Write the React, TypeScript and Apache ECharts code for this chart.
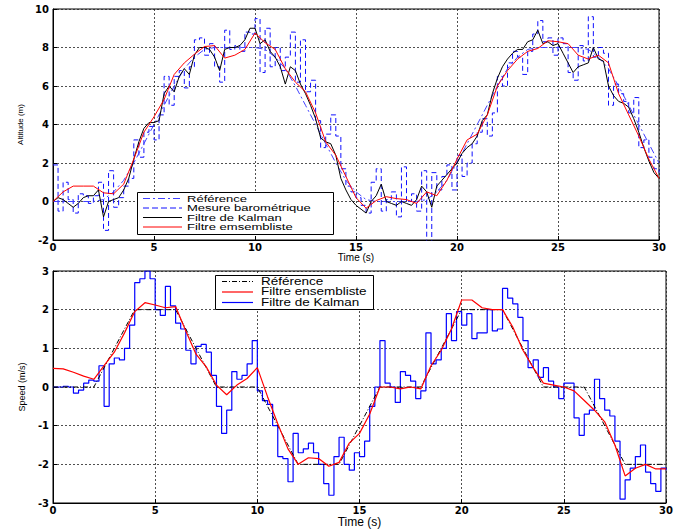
import React, { useEffect, useRef } from "react";
import * as echarts from "echarts";

// Sampling steps of the recorded signals (s)
const FINE_STEP = 0.25;
const COARSE_STEP = 0.5;

// ---- Altitude (m), top panel ----
const altMeasure = [
  1.9, -0.5, 1.0, 0.1, -0.6, 0.4, 0.3, -0.1, 0.3, 1.0, -1.5, 1.6, -0.3, 0.2, 0.8, 1.2,
  3.2, 2.3, 3.6, 3.9, 3.2, 4.5, 6.5, 5.0, 6.5, 6.8, 5.9, 7.0, 8.4, 8.5, 7.6, 8.2,
  7.0, 6.2, 8.9, 7.9, 8.1, 7.8, 8.8, 8.7, 9.5, 6.7, 9.0, 7.0, 8.0, 6.8, 7.5, 8.8,
  6.2, 8.4, 5.7, 6.3, 4.2, 2.8, 3.5, 4.5, 3.4, 1.7, 0.8, 0.5, 0.2, -0.2, -0.6, 1.0,
  1.7, -0.5, 0.1, 0.5, -0.8, 1.8, 0.0, 0.4, -0.5, 1.6, -2.2, 1.5, 0.6, 1.3, 1.9, 0.6,
  2.4, 1.3, 2.0, 3.0, 3.6, 4.3, 3.4, 4.6, 6.5, 6.0, 7.2, 7.8, 7.5, 6.6, 7.8, 8.7,
  9.4, 8.3, 8.5, 7.6, 8.5, 8.2, 6.7, 6.3, 8.1, 7.3, 9.6, 7.5, 8.0, 7.7, 5.0, 6.1,
  5.6, 5.2, 4.6, 5.4, 2.8, 3.2, 2.3, 1.7, 1.5,
];
const altKalman = [
  0.0, 0.2, 0.1, -0.1, -0.3, -0.1, 0.2, 0.3, 0.3, 0.6, -0.8, 0.0, 0.1, 0.2, 0.6, 1.2,
  2.2, 3.1, 3.8, 4.1, 4.1, 4.2, 5.6, 6.0, 5.7, 6.5, 6.9, 6.6, 7.6, 8.0, 8.0, 7.9,
  7.5, 6.8, 7.9, 8.0, 8.0, 8.1, 8.4, 9.0, 9.0, 8.2, 8.4, 7.8, 7.5, 7.0, 6.1, 7.0,
  6.8, 6.1, 5.6, 5.0, 4.3, 3.3, 3.1, 3.0, 2.4, 1.2, 0.6, 0.1, -0.2, -0.4, -0.6, 0.0,
  0.3, 0.9, 0.0, -0.1, -0.2, 0.0, -0.1, -0.2, 0.1, 0.8, 0.5, -0.3, 0.8, 1.1, 1.4, 1.7,
  2.0, 2.5, 2.8, 3.0, 3.4, 4.2, 4.5, 5.6, 6.4, 7.0, 7.4, 7.7, 7.9, 7.9, 8.3, 8.4,
  8.9, 8.2, 8.3, 8.1, 8.2, 7.7, 7.2, 6.7, 7.0, 7.1, 7.2, 8.0, 7.4, 7.3, 6.0, 5.5,
  5.2, 5.1, 4.9, 4.3, 3.6, 2.8, 2.1, 1.5, 1.2,
];
const altEnsemble = [
  0.0, 0.5, 0.8, 0.8, 0.8, 0.45, 0.4, 0.9, 2.2, 3.6, 4.4, 5.3, 6.6, 7.2, 7.65, 8.05,
  8.1, 7.45, 7.6, 7.9, 8.75, 8.25, 7.9, 6.9, 6.2, 5.7, 4.6, 3.1, 2.4, 1.3, 0.2, -0.35,
  0.05, 0.25, 0.15, 0.1, -0.1, 0.5, 0.3, 1.1, 2.2, 3.2, 3.5, 4.5, 6.0, 6.8, 7.4, 7.8,
  7.95, 8.35, 8.3, 8.2, 7.6, 7.4, 7.6, 7.2, 5.6, 4.5, 3.4, 2.2, 1.2,
];
const altReference = [
  0, 0, 0, 0, 0, 0.1, 0.5, 1.1, 2, 3, 4, 5, 6, 6.9, 7.5, 7.9,
  8, 8, 8, 8, 8, 7.9, 7.5, 6.9, 6, 5, 4, 3, 2, 1.1, 0.5, 0.1,
  0, 0, 0, 0, 0, 0.1, 0.5, 1.1, 2, 3, 4, 5, 6, 6.9, 7.5, 7.9,
  8, 8, 8, 8, 8, 7.9, 7.5, 6.9, 6, 5, 4, 3, 2,
];

// ---- Speed (m/s), bottom panel ----
const speedKalman = [
  0, 0, 0.02, 0, -0.16, -0.08, 0.1, 0.18, 0.15, 0.55, -0.5, 0.6, 0.75, 0.7, 1.0, 1.6,
  2.7, 2.8, 3.0, 2.8, 2.0, 1.85, 2.6, 2.1, 1.65, 1.5, 0.95, 0.6, 1.05, 1.1, 0.9, 0.3,
  -0.5, -1.2, -0.6, 0.4, 0.2, 0.3, 0.6, 1.2, -0.1, -0.35, -0.45, -1.0, -1.8, -1.85, -2.45, -1.2,
  -1.7, -1.6, -1.45, -1.7, -2.0, -2.5, -2.8, -1.8, -1.3, -2.0, -2.15, -1.7, -1.8, -1.4, -0.5, 0.0,
  1.2, 0.1, 0.0, -0.4, 0.4, 0.3, 0.15, -0.3, -0.1, 1.4, 0.6, 0.7, 1.0, 1.9, 1.2, 1.95,
  1.6, 1.9, 1.25, 1.4, 1.4, 2.0, 1.45, 1.5, 2.55, 2.3, 2.15, 1.8, 1.2, 0.5, 0.7, 0.25,
  0.5, 0.15, 0.0, -0.3, 0.1, 0.1, -0.8, -1.25, -0.7, -0.6, 0.2, -0.3, -0.6, -0.75, -1.4, -2.9,
  -2.4, -2.1, -1.8, -1.5, -2.2, -2.5, -2.7, -2.1, -2.15,
];
const speedEnsemble = [
  0.48, 0.47, 0.38, 0.28, 0.2, 0.55, 0.9, 1.4, 1.95, 2.18, 2.12, 2.05, 2.08, 1.45, 0.85, 0.52,
  0.05, -0.2, 0.05, 0.22, 0.5, -0.25, -0.95, -1.6, -2.0, -1.83, -1.85, -2.05, -1.95, -1.45, -1.2, -0.7,
  0.0, 0.0, -0.05, 0.0, -0.05, 0.55, 0.95, 1.5, 2.25, 2.25, 2.05, 2.0, 2.0, 1.55, 0.95, 0.5,
  0.1, 0.05, 0.0, -0.1, -0.35, -0.6, -0.9, -1.5, -2.3, -2.1, -2.0, -2.12, -2.12,
];
const speedRefTimes = [0, 2, 4, 6, 8, 10, 12, 14, 16, 18, 20, 22, 24, 26, 28, 30];
const speedRefValues = [0, 0, 2, 2, 0, 0, -2, -2, 0, 0, 2, 2, 0, 0, -2, -2];

const topLegend = ["Référence", "Mesure barométrique", "Filtre de Kalman", "Filtre emsembliste"];
const bottomLegend = ["Référence", "Filtre ensembliste", "Filtre de Kalman"];

const withTime = (vals: number[], step: number) => vals.map((v, i) => [i * step, v]);

const tickFont = { color: "#000", fontFamily: "DejaVu Sans", fontSize: 10, fontWeight: "bold" as const };
const gridLine = { show: true, lineStyle: { color: "#222", type: [2, 2], width: 0.8 } };

function xAxis(gridIndex: number, nameSize: number, gap: number) {
  return {
    type: "value",
    gridIndex,
    min: 0,
    max: 30,
    interval: 5,
    name: "Time (s)",
    nameLocation: "middle",
    nameGap: gap,
    nameTextStyle: { color: "#000", fontFamily: "Liberation Sans", fontSize: nameSize },
    axisLine: { show: true, onZero: false, lineStyle: { color: "#000", width: 1 } },
    axisTick: { show: true, inside: true, length: 4, lineStyle: { color: "#000" } },
    axisLabel: { ...tickFont, margin: 2 },
    splitLine: gridLine,
  };
}

function yAxis(gridIndex: number, name: string, min: number, max: number, interval: number, nameSize: number, gap: number) {
  return {
    type: "value",
    gridIndex,
    min,
    max,
    interval,
    name,
    nameLocation: "middle",
    nameGap: gap,
    nameTextStyle: { color: "#000", fontFamily: "Liberation Sans", fontSize: nameSize },
    axisLine: { show: true, onZero: false, lineStyle: { color: "#000", width: 1 } },
    axisTick: { show: true, inside: true, length: 4, lineStyle: { color: "#000" } },
    axisLabel: { ...tickFont, margin: 4 },
    splitLine: gridLine,
  };
}

function legendGroup(
  box: { x: number; y: number; w: number; h: number },
  lineX1: number,
  lineX2: number,
  textX: number,
  rows: number[],
  labels: string[],
  styles: { stroke: string; dash: number[] | null; width: number }[],
  fontSize: number,
  stretch: number
) {
  const children: any[] = [
    {
      type: "rect",
      shape: { x: box.x, y: box.y, width: box.w, height: box.h },
      style: { fill: "#fff", stroke: "#000", lineWidth: 1 },
      z: 100,
    },
  ];
  labels.forEach((label, i) => {
    children.push({
      type: "line",
      shape: { x1: lineX1, y1: rows[i], x2: lineX2, y2: rows[i] },
      style: { stroke: styles[i].stroke, lineWidth: styles[i].width, lineDash: styles[i].dash || undefined },
      z: 101,
    });
    children.push({
      type: "text",
      x: textX,
      y: rows[i],
      scaleX: stretch,
      style: {
        text: label,
        font: `${fontSize}px "Liberation Sans"`,
        fill: "#000",
        verticalAlign: "middle",
        align: "left",
      },
      z: 101,
    });
  });
  return { type: "group", children };
}

export default function App() {
  const ref = useRef<HTMLDivElement>(null);
  useEffect(() => {
    document.body.style.margin = "0";
    if (!ref.current) return;
    const chart = echarts.init(ref.current, undefined, { renderer: "svg" });
    const REF_BLUE = "#4040ff";
    const MEAS_BLUE = "#1010ff";
    chart.setOption({
      animation: false,
      backgroundColor: "#fff",
      grid: [
        { left: 53, top: 9, width: 606, height: 231, show: true, borderColor: "#000", borderWidth: 1, backgroundColor: "transparent" },
        { left: 53, top: 271, width: 613, height: 232, show: true, borderColor: "#000", borderWidth: 1, backgroundColor: "transparent" },
      ],
      xAxis: [xAxis(0, 10, 11), xAxis(1, 12, 9)],
      yAxis: [yAxis(0, "Altitude (m)", -2, 10, 2, 8, 25), yAxis(1, "Speed (m/s)", -3, 3, 1, 9, 22)],
      series: [
        {
          name: topLegend[1], type: "line", xAxisIndex: 0, yAxisIndex: 0, step: "end", showSymbol: false, silent: true,
          data: withTime(altMeasure, FINE_STEP),
          lineStyle: { color: MEAS_BLUE, width: 1, type: [5, 3] },
        },
        {
          name: topLegend[0], type: "line", xAxisIndex: 0, yAxisIndex: 0, showSymbol: false, silent: true,
          data: withTime(altReference, COARSE_STEP),
          lineStyle: { color: REF_BLUE, width: 1, type: [7, 3, 2, 3] },
        },
        {
          name: topLegend[2], type: "line", xAxisIndex: 0, yAxisIndex: 0, showSymbol: false, silent: true,
          data: withTime(altKalman, FINE_STEP),
          lineStyle: { color: "#000", width: 1 },
        },
        {
          name: topLegend[3], type: "line", xAxisIndex: 0, yAxisIndex: 0, showSymbol: false, silent: true,
          data: withTime(altEnsemble, COARSE_STEP),
          lineStyle: { color: "#ff0000", width: 1 },
        },
        {
          name: bottomLegend[2], type: "line", xAxisIndex: 1, yAxisIndex: 1, step: "end", showSymbol: false, silent: true,
          data: withTime(speedKalman, FINE_STEP),
          lineStyle: { color: "#0000ff", width: 1.2 },
        },
        {
          name: bottomLegend[0], type: "line", xAxisIndex: 1, yAxisIndex: 1, showSymbol: false, silent: true,
          data: speedRefTimes.map((t, i) => [t, speedRefValues[i]]),
          lineStyle: { color: "#000", width: 1, type: [5, 2, 1, 2] },
        },
        {
          name: bottomLegend[1], type: "line", xAxisIndex: 1, yAxisIndex: 1, showSymbol: false, silent: true,
          data: withTime(speedEnsemble, COARSE_STEP),
          lineStyle: { color: "#ff0000", width: 1.2 },
        },
      ],
      graphic: [
        legendGroup(
          { x: 137.5, y: 192.5, w: 196, h: 42 }, 143, 182, 187, [198.5, 208, 217.5, 227], topLegend,
          [
            { stroke: REF_BLUE, dash: [7, 3, 2, 3], width: 1 },
            { stroke: MEAS_BLUE, dash: [6, 3], width: 1 },
            { stroke: "#000", dash: null, width: 1 },
            { stroke: "#ff0000", dash: null, width: 1 },
          ],
          9, 1.45
        ),
        legendGroup(
          { x: 215.5, y: 275.5, w: 158, h: 34 }, 222, 253, 261, [281.5, 292, 302.5], bottomLegend,
          [
            { stroke: "#000", dash: [5, 2, 1, 2], width: 1 },
            { stroke: "#ff0000", dash: null, width: 1.2 },
            { stroke: "#0000ff", dash: null, width: 1.2 },
          ],
          10, 1.35
        ),
      ],
    });
    return () => chart.dispose();
  }, []);
  return (
    <div
      ref={ref}
      style={{ position: "absolute", left: 0, top: 0, width: 688, height: 529, background: "#fff" }}
    />
  );
}
